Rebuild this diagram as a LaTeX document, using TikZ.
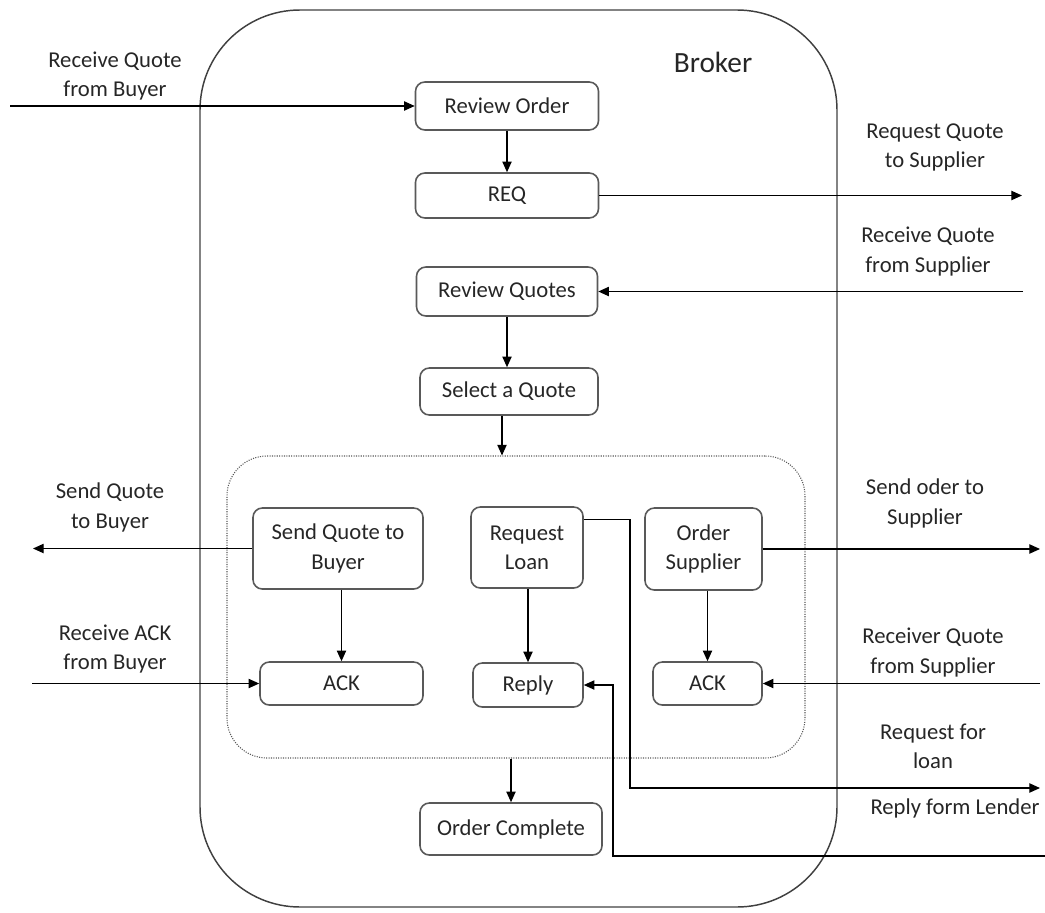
\documentclass[tikz,border=0pt]{standalone}
\usepackage{fontspec}
\setmainfont{Carlito}
\usepackage{tikz}
\usetikzlibrary{arrows.meta}
\definecolor{boxline}{HTML}{595959}
\definecolor{frameline}{HTML}{404040}
\definecolor{ink}{HTML}{262626}

\begin{document}
\begin{tikzpicture}[x=0.75pt, y=-0.75pt,
        font=\fontsize{17}{22}\selectfont, text=ink,
        task/.style={draw=boxline, line width=1.2pt, rounded corners=7pt,
                     inner sep=0pt, align=center},
        flow/.style={-{Triangle[length=8pt,width=7pt]}, line width=0.9pt},
        tag/.style={align=center}]
    \useasboundingbox (0,0) rectangle (1045,913);

    % containers
    \node[draw=frameline, line width=1.1pt, rounded corners=75pt,
          minimum width=477.75pt, minimum height=672.75pt] (broker) at (518.5,458.5) {};
    \node[font=\fontsize{22}{26}\selectfont] (brokerlbl) at (713,62) {Broker};
    \node[draw=boxline, densely dotted, line width=0.8pt, rounded corners=30pt,
          minimum width=433.5pt, minimum height=226.5pt] (group) at (516,607) {};

    % main column
    \node[task, minimum width=137.25pt, minimum height=36pt]    (review) at (507,106)   {Review Order};
    \node[task, minimum width=137.25pt, minimum height=33.75pt] (req)    at (507,195.5) {REQ};
    \node[task, minimum width=135.75pt, minimum height=36.75pt] (quotes) at (507,291.5) {Review Quotes};
    \node[task, minimum width=133.5pt,  minimum height=35.25pt] (select) at (509,391.5) {Select a Quote};
    \node[task, minimum width=136.5pt,  minimum height=39pt]    (done)   at (511,829)   {Order Complete};

    % parallel branches
    \node[task, minimum width=127.5pt, minimum height=60.75pt] (sendq) at (338,548.5) {Send Quote to\\Buyer};
    \node[task, minimum width=122.25pt, minimum height=32.25pt] (ackb) at (341.5,683.5) {ACK};
    \node[task, minimum width=84pt, minimum height=60.75pt]    (loan)  at (527,547.5) {Request\\Loan};
    \node[task, minimum width=82.5pt, minimum height=33pt]     (reply) at (528,685)   {Reply};
    \node[task, minimum width=87.75pt, minimum height=61.5pt]  (order) at (703.5,549) {Order\\Supplier};
    \node[task, minimum width=81.75pt, minimum height=32.25pt] (acks)  at (707.5,683.5) {ACK};

    % outside ends
    \coordinate (buyerIn)   at (10,106);
    \coordinate (supOut)    at (1022,195.5);
    \coordinate (supIn)     at (1023,291.5);
    \coordinate (buyerOut)  at (33,548.5);
    \coordinate (orderOut)  at (1040,549);
    \coordinate (ackIn)     at (32,683.5);
    \coordinate (supAckIn)  at (1040,683.5);
    \coordinate (loanBend)  at (630,788);
    \coordinate (lenderOut) at (1040,788);
    \coordinate (lenderIn)  at (1045,856);
    \coordinate (replyBend) at (613,856);

    % labels
    \node[tag] (lbuyerin)  at (115,76)    {Receive Quote\\from Buyer};
    \node[tag] (lsupout)   at (935,147.5) {Request Quote\\to Supplier};
    \node[tag] (lsupin)    at (928,251.5) {Receive Quote\\from Supplier};
    \node[tag] (lbuyerout) at (110,507.5) {Send Quote\\to Buyer};
    \node[tag] (lorderout) at (925,503.5) {Send oder to\\Supplier};
    \node[tag] (lackin)    at (115,649)   {Receive ACK\\from Buyer};
    \node[tag] (lsupack)   at (933,652.5) {Receiver Quote\\from Supplier};
    \node[tag] (lloan)     at (933,746)   {Request for\\loan};
    \node[tag] (llender)   at (955,808)   {Reply form Lender};

    % flows
    \draw[flow] (buyerIn) -- (review);
    \draw[flow] (review) -- (req);
    \draw[flow] (req) -- (supOut);
    \draw[flow] (supIn) -- (quotes);
    \draw[flow] (quotes) -- (quotes |- select.north);
    \draw[flow] (select.south -| 502,0) -- (group.north -| 502,0);
    \draw[flow] (sendq) -- (buyerOut);
    \draw[flow] (order) -- (orderOut);
    \draw[flow] (sendq.south -| ackb) -- (ackb);
    \draw[flow] (loan.south -| reply) -- (reply);
    \draw[flow] (order.south -| acks) -- (acks);
    \draw[flow] (ackIn) -- (ackb);
    \draw[flow] (supAckIn) -- (acks);
    \draw[flow] ([yshift=-9.75pt]loan.north east) -| (loanBend) -- (lenderOut);
    \draw[flow] (lenderIn) -- (replyBend) |- (reply);
    \draw[flow] (group.south -| done) -- (done);
\end{tikzpicture}
\end{document}
